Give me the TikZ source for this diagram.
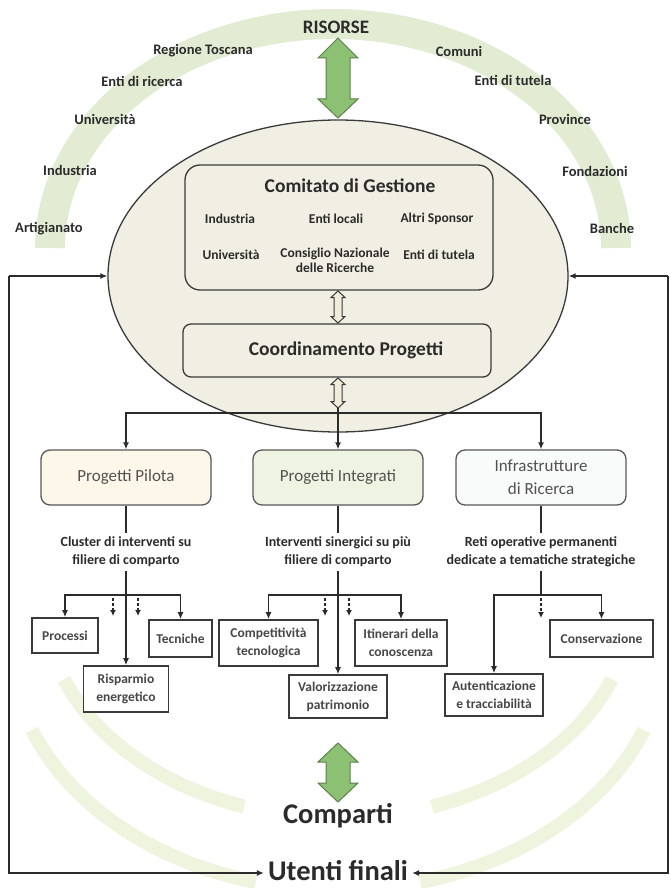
\documentclass[tikz,border=0pt]{standalone}
\usepackage{fontspec}
\setmainfont{Carlito}
\usetikzlibrary{shapes.geometric,arrows.meta,calc}

\definecolor{bandgreen}{HTML}{E1ECD3}
\definecolor{paleband}{HTML}{EFF4DE}
\definecolor{arrowgreen}{HTML}{8CC072}
\definecolor{arrowedge}{HTML}{5F7F4B}
\definecolor{ovalfill}{HTML}{F1EFE4}
\definecolor{pilotfill}{HTML}{FDF7E9}
\definecolor{integfill}{HTML}{EEF3E2}
\definecolor{infrafill}{HTML}{F8FBF9}
\definecolor{ink}{HTML}{2B2B2B}
\definecolor{edge}{HTML}{3A3A3A}
\definecolor{hollowfill}{HTML}{F2EDD9}

\begin{document}
\begin{tikzpicture}[x=1pt,y=-1pt,
  lab/.style={font=\bfseries\fontsize{14.5}{16}\selectfont, text=ink, inner sep=0pt},
  member/.style={font=\bfseries\fontsize{13.5}{15}\selectfont, text=ink, align=center, inner sep=0pt},
  headline/.style={font=\bfseries\fontsize{19.5}{22}\selectfont, text=ink, inner sep=0pt},
  panel/.style={draw=edge, line width=1.3pt, fill=ovalfill, inner sep=0pt},
  projbox/.style={draw=edge!85, line width=1.3pt, rounded corners=9pt, minimum width=170pt, minimum height=55pt,
    font=\fontsize{17}{23}\selectfont, text=black!68, align=center, inner sep=0pt},
  desc/.style={font=\bfseries\fontsize{14}{18}\selectfont, text=ink, align=center, inner sep=4pt},
  leaf/.style={draw=edge, line width=1.6pt, fill=white, font=\bfseries\fontsize{13.5}{18}\selectfont,
    text=black!72, align=center, inner sep=0pt},
  bigword/.style={font=\bfseries\fontsize{28.5}{30}\selectfont, text=ink, inner sep=4pt},
  conn/.style={draw=ink, line width=1.8pt, -{Latex[length=7pt,width=6pt]}},
  plain/.style={draw=ink, line width=1.8pt},
  hint/.style={draw=ink, line width=1.2pt, dash pattern=on 3pt off 2pt, -{Latex[length=6pt,width=6pt]}},
  band/.style={line width=30pt, draw=bandgreen},
  softband/.style={line width=14pt, draw=paleband},
  greenarrow/.style={fill=arrowgreen, draw=arrowedge, line width=1pt, line join=miter},
  hollowarrow/.style={fill=hollowfill, draw=edge, line width=1pt}
]
\useasboundingbox (0,0) rectangle (670,888);

% ---- background bands -------------------------------------------------
\draw[band] plot[domain=180:360, samples=120, variable=\t] ({333+283*cos(\t)}, {248+224*sin(\t)});
\draw[softband] plot[domain=158.7:108.6, samples=60, variable=\t] ({338+294*cos(\t)}, {600+218*sin(\t)});
\draw[softband] plot[domain=21.3:71.4, samples=60, variable=\t] ({338+294*cos(\t)}, {600+218*sin(\t)});
\draw[softband] plot[domain=158.9:104.5, samples=60, variable=\t] ({338+328*cos(\t)}, {640+250*sin(\t)});
\draw[softband] plot[domain=21.1:75.5, samples=60, variable=\t] ({338+328*cos(\t)}, {640+250*sin(\t)});

% ---- resources ring ---------------------------------------------------
\node[font=\bfseries\fontsize{19}{21}\selectfont, text=ink, inner sep=0pt] (risorse) at (336,27) {RISORSE};
\node[lab] (regione)  at (203,51)  {Regione Toscana};
\node[lab] (ricerca)  at (142,81)  {Enti di ricerca};
\node[lab] (univ)     at (105,119) {Università};
\node[lab] (industria) at (70,170) {Industria};
\node[lab] (artig)    at (49,229)  {Artigianato};
\node[lab] (comuni)   at (459,51)  {Comuni};
\node[lab] (tutela)   at (513,80)  {Enti di tutela};
\node[lab] (province) at (565,119) {Province};
\node[lab] (fondaz)   at (595,171) {Fondazioni};
\node[lab] (banche)   at (612,228) {Banche};

% green two-way arrow between resources and the oval
\draw[greenarrow] (338,38) -- (358,58) -- (350,58) -- (350,99) -- (358,99) -- (338,118)
  -- (318,99) -- (326,99) -- (326,58) -- (318,58) -- cycle;

% ---- management oval --------------------------------------------------
\node[ellipse, panel, minimum width=460pt, minimum height=312pt] (oval) at (338,276) {};

\node[panel, rounded corners=15pt, minimum width=308pt, minimum height=125pt] (comitato) at (339,227.5) {};
\node[headline] (comTitle) at (350,186) {Comitato di Gestione};
\node[member] (mInd)  at (230,219) {Industria};
\node[member] (mLoc)  at (336,219) {Enti locali};
\node[member] (mSpo)  at (437,219) {Altri Sponsor};
\node[member] (mUni)  at (231,255) {Università};
\node[member, anchor=north] (mCnr) at (335,248) {Consiglio Nazionale\\delle Ricerche};
\node[member] (mTut)  at (439,255) {Enti di tutela};

\node[panel, rounded corners=8pt, minimum width=308pt, minimum height=53pt] (coord) at (337,350.5) {};
\node[headline] (coordTxt) at (346,350) {Coordinamento Progetti};

% hollow two-way arrows
\draw[hollowarrow] (338,291) -- (345,297.5) -- (342,297.5) -- (342,316.5) -- (345,316.5) -- (338,323)
  -- (331,316.5) -- (334,316.5) -- (334,297.5) -- (331,297.5) -- cycle;
\draw[hollowarrow] (338,378) -- (345,384.5) -- (342,384.5) -- (342,401.5) -- (345,401.5) -- (338,408)
  -- (331,401.5) -- (334,401.5) -- (334,384.5) -- (331,384.5) -- cycle;

% ---- project families -------------------------------------------------
\node[projbox, fill=pilotfill] (pilota) at (126,477.5) {Progetti Pilota};
\node[projbox, fill=integfill] (integr) at (338,477.5) {Progetti Integrati};
\node[projbox, fill=infrafill] (infra)  at (541,477.5) {Infrastrutture\\di Ricerca};

\coordinate (hub) at (338,413);
\draw[plain] (338,408) -- (hub);
\draw[conn] (hub) -| (pilota.north);
\draw[conn] (hub) -- (integr.north);
\draw[conn] (hub) -| (infra.north);

\node[desc] (cluster) at (126,552) {Cluster di interventi su\\filiere di comparto};
\node[desc] (sinerg)  at (338,552) {Interventi sinergici su più\\filiere di comparto};
\node[desc] (reti)    at (541,552) {Reti operative permanenti\\dedicate a tematiche strategiche};

\draw[plain] (pilota.south) -- (cluster.north);
\draw[plain] (integr.south) -- (sinerg.north);
\draw[plain] (infra.south) -- (reti.north);

% ---- single interventions --------------------------------------------
\node[leaf, minimum width=66pt, minimum height=35pt] (processi) at (65,635.5) {Processi};
\node[leaf, minimum width=63pt, minimum height=37pt] (tecniche) at (180.5,638.5) {Tecniche};
\node[leaf, minimum width=85pt, minimum height=46pt] (risparmio) at (126,689) {Risparmio\\energetico};

\node[leaf, minimum width=99pt, minimum height=46pt] (competit) at (268.5,643) {Competitività\\tecnologica};
\node[leaf, minimum width=92pt, minimum height=46pt] (itinerari) at (401,643) {Itinerari della\\conoscenza};
\node[leaf, minimum width=98pt, minimum height=43pt] (valoriz) at (338,696.5) {Valorizzazione\\patrimonio};

\node[leaf, minimum width=103pt, minimum height=37pt] (conserv) at (601.5,638.5) {Conservazione};
\node[leaf, minimum width=98pt, minimum height=42pt] (autent) at (494,695) {Autenticazione\\e tracciabilità};

% pilot branch
\coordinate (pb) at (126,595);
\draw[conn] (cluster.south) -- (risparmio.north);
\draw[conn] (pb) -| (processi.north);
\draw[conn] (pb) -| (tecniche.north);
\coordinate (pd1) at (113,598); \coordinate (pd1e) at (113,616);
\coordinate (pd2) at (138,598); \coordinate (pd2e) at (138,616);
\draw[hint] (pd1) -- (pd1e);
\draw[hint] (pd2) -- (pd2e);

% integrated branch
\coordinate (ib) at (338,595);
\draw[conn] (sinerg.south) -- (valoriz.north);
\draw[conn] (ib) -| (competit.north);
\draw[conn] (ib) -| (itinerari.north);
\coordinate (id1) at (325,598); \coordinate (id1e) at (325,616);
\coordinate (id2) at (349,598); \coordinate (id2e) at (349,616);
\draw[hint] (id1) -- (id1e);
\draw[hint] (id2) -- (id2e);

% infrastructure branch
\coordinate (rb) at (541,595);
\draw[plain] (reti.south) -- (rb);
\draw[conn] (rb) -| (autent.north);
\draw[conn] (rb) -| (conserv.north);
\coordinate (rd1) at (541,598); \coordinate (rd1e) at (541,618);
\draw[hint] (rd1) -- (rd1e);

% ---- sectors and end users -------------------------------------------
\draw[greenarrow] (338,743) -- (358,762) -- (350,762) -- (350,783) -- (358,783) -- (338,802)
  -- (318,783) -- (326,783) -- (326,762) -- (318,762) -- cycle;
\node[bigword] (comparti) at (338,816) {Comparti};
\node[bigword] (utenti) at (338,871) {Utenti finali};

% feedback loops on both sides
\coordinate (lt) at (9,276);
\coordinate (lb) at (9,873);
\coordinate (rt) at (668,276);
\coordinate (rb2) at (668,873);
\draw[conn] (lt) -- (oval.west);
\draw[conn] (lt) -- (lb) -- (lb -| utenti.west);
\draw[conn] (rt) -- (oval.east);
\draw[conn] (rt) -- (rb2) -- (rb2 -| utenti.east);
\end{tikzpicture}
\end{document}
